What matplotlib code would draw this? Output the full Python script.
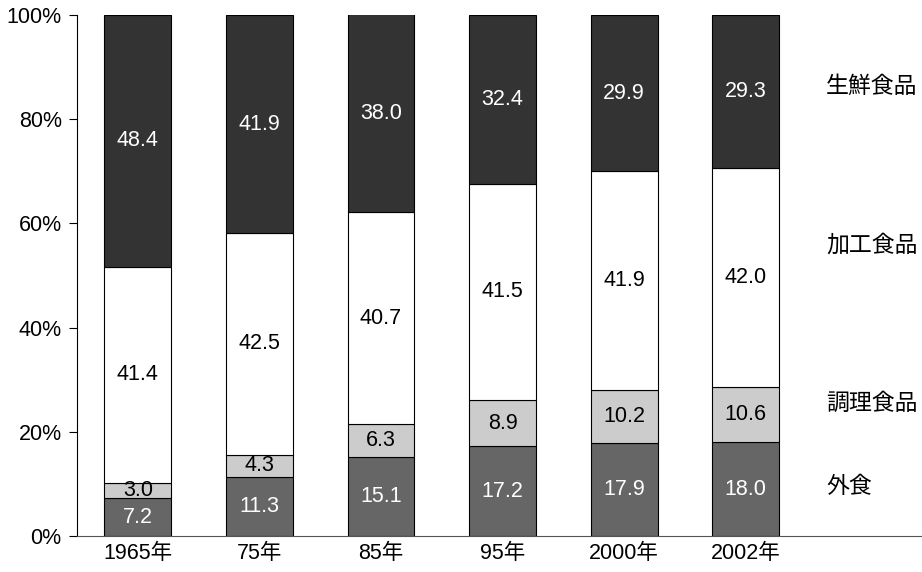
import matplotlib
matplotlib.use('Agg')
import matplotlib.pyplot as plt
import numpy as np

plt.rcParams['font.family'] = ['Liberation Sans', 'Noto Sans CJK JP', 'DejaVu Sans']

# 食料支出の構成比 (%)
years = ['1965年', '75年', '85年', '95年', '2000年', '2002年']
gaishoku = [7.2, 11.3, 15.1, 17.2, 17.9, 18.0]      # 外食
chouri = [3.0, 4.3, 6.3, 8.9, 10.2, 10.6]            # 調理食品
kakou = [41.4, 42.5, 40.7, 41.5, 41.9, 42.0]         # 加工食品
seisen = [48.4, 41.9, 38.0, 32.4, 29.9, 29.3]        # 生鮮食品

series_names = ['外食', '調理食品', '加工食品', '生鮮食品']
series_vals = [gaishoku, chouri, kakou, seisen]
fills = ['#666666', '#cccccc', '#ffffff', '#333333']
text_cols = ['white', 'black', 'black', 'white']
# right-hand label heights (in %)
name_y = [9.4, 25.5, 55.9, 86.2]

fig = plt.figure(figsize=(9.22, 5.72), dpi=100)
ax = fig.add_axes([0.0835, 0.063, 0.9165, 0.911])

x = np.arange(len(years))
bottom = np.zeros(len(years))
for vals, fc, tc in zip(series_vals, fills, text_cols):
    vals = np.array(vals)
    ax.bar(x, vals, width=0.55, bottom=bottom, color=fc, edgecolor='black', linewidth=0.8)
    for xi, b, v in zip(x, bottom, vals):
        ax.text(xi, b + v / 2, f'{v:.1f}', ha='center', va='center', fontsize=15.5, color=tc)
    bottom += vals

for name, yv in zip(series_names, name_y):
    ax.text(5.66, yv, name, ha='left', va='center', fontsize=16.5,
            family=['Noto Sans CJK JP', 'DejaVu Sans'])

ax.set_xlim(-0.5, 6.45)
ax.set_ylim(0, 100)
ax.set_xticks(x)
ax.set_xticklabels(years, fontsize=15.5, family=['Liberation Sans', 'Noto Sans CJK JP'])
ax.tick_params(axis='x', length=0, pad=5)
ax.set_yticks(np.arange(0, 101, 20))
ax.set_yticklabels([f'{v}%' for v in range(0, 101, 20)], fontsize=15.5)
ax.tick_params(axis='y', length=6, width=0.8, pad=5)

for s in ['top', 'right']:
    ax.spines[s].set_visible(False)
ax.spines['left'].set_linewidth(0.8)
ax.spines['bottom'].set_linewidth(0.8)
ax.spines['bottom'].set_color('#555555')

fig.savefig('out.png', dpi=100, facecolor='white')
